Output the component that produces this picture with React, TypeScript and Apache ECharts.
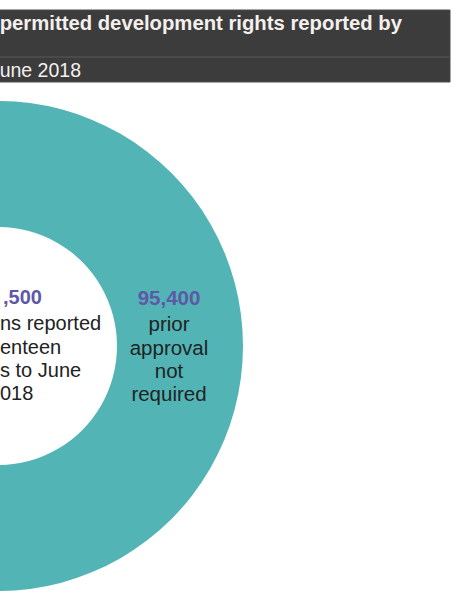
import React, { useEffect, useRef } from "react";
import * as echarts from "echarts";

const categories = ["prior approval not required"];
const values = [95400];
const sliceLabelLines = ["95,400", "prior", "approval", "not", "required"];
// Only the visible (cropped) parts of the centre text of the reference
const centreLines = [",500", "ns reported", "enteen", "s to June", "018"];
const centreLeftEdges = [3, 0, 0, 0, 0];
const titleLine1 = "permitted development rights reported by";
const titleLine2 = "une 2018";

const FONT = "'Liberation Sans', Arial, sans-serif";
const lineYs = [297, 323, 347, 370, 393];

export default function App() {
  const ref = useRef<HTMLDivElement>(null);
  useEffect(() => {
    if (!ref.current) return;
    const chart = echarts.init(ref.current, null, { renderer: "svg" });
    const centreTexts = centreLines.map((t, i) => ({
      type: "text",
      x: centreLeftEdges[i],
      y: lineYs[i],
      z: 100,
      silent: true,
      style: {
        text: t,
        fill: i === 0 ? "#5d59a6" : "#222222",
        font: `${i === 0 ? "bold " : ""}20px ${FONT}`,
        textAlign: "left",
        textVerticalAlign: "middle",
      },
    }));
    const sliceTexts = sliceLabelLines.map((t, i) => ({
      type: "text",
      x: 169,
      y: lineYs[i],
      z: 100,
      silent: true,
      style: {
        text: t,
        fill: i === 0 ? "#5d59a6" : "#1e2424",
        font: `${i === 0 ? "bold " : ""}20.5px ${FONT}`,
        textAlign: "center",
        textVerticalAlign: "middle",
      },
    }));
    chart.setOption({
      animation: false,
      backgroundColor: "#ffffff",
      series: [
        {
          type: "pie",
          center: [-2, 346],
          radius: [119, 245],
          silent: true,
          startAngle: 90,
          label: { show: false },
          labelLine: { show: false },
          itemStyle: { color: "#53b4b5" },
          data: categories.map((c, i) => ({ name: c, value: values[i] })),
        },
      ],
      graphic: [
        {
          type: "rect",
          z: 50,
          shape: { x: -10, y: 10, width: 460, height: 72 },
          style: { fill: "#3c3c3c", stroke: "#4a4a4a", lineWidth: 1 },
          silent: true,
        },
        {
          type: "line",
          z: 51,
          shape: { x1: -10, y1: 57, x2: 449, y2: 57 },
          style: { stroke: "#595959", lineWidth: 1 },
          silent: true,
        },
        {
          type: "text",
          x: 402,
          y: 23,
          z: 100,
          silent: true,
          style: {
            text: titleLine1,
            fill: "#f4f0ee",
            font: `bold 20.3px ${FONT}`,
            textAlign: "right",
            textVerticalAlign: "middle",
          },
        },
        {
          type: "text",
          x: 81,
          y: 70,
          z: 100,
          silent: true,
          style: {
            text: titleLine2,
            fill: "#f4f0ee",
            font: `19.5px ${FONT}`,
            textAlign: "right",
            textVerticalAlign: "middle",
          },
        },
        ...centreTexts,
        ...sliceTexts,
      ],
    });
    return () => chart.dispose();
  }, []);
  return (
    <div
      ref={ref}
      style={{ position: "absolute", left: 0, top: 0, width: 452, height: 604 }}
    />
  );
}
